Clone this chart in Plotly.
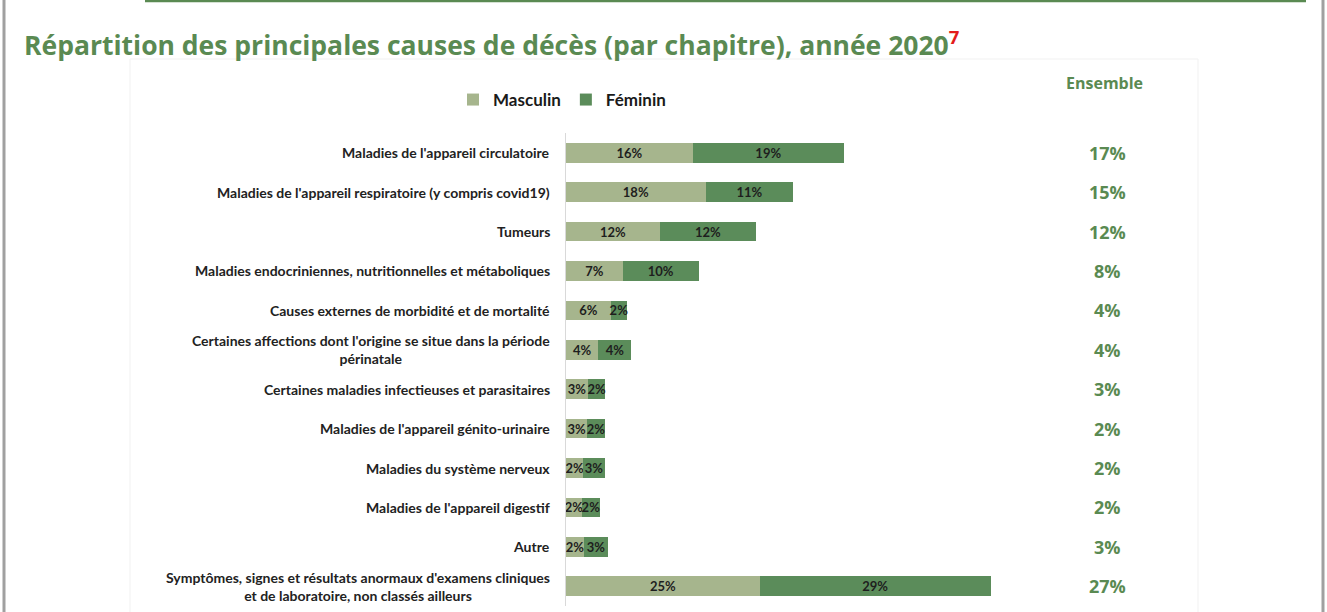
import plotly.graph_objects as go

W, H = 1327, 612

categories = [
    "Maladies de l'appareil circulatoire",
    "Maladies de l'appareil respiratoire (y compris covid19)",
    "Tumeurs",
    "Maladies endocriniennes, nutritionnelles et métaboliques",
    "Causes externes de morbidité et de mortalité",
    "Certaines affections dont l'origine se situe dans la période<br>périnatale",
    "Certaines maladies infectieuses et parasitaires",
    "Maladies de l'appareil génito-urinaire",
    "Maladies du système nerveux",
    "Maladies de l'appareil digestif",
    "Autre",
    "Symptômes, signes et résultats anormaux d'examens cliniques<br>et de laboratoire, non classés ailleurs",
]
masculin = [16.1, 17.7, 11.9, 7.2, 5.7, 4.1, 2.8, 2.7, 2.2, 2.0, 2.3, 24.6]
feminin = [19.1, 11.1, 12.2, 9.6, 2.0, 4.2, 2.2, 2.2, 2.7, 2.3, 3.0, 29.2]
ensemble = ["17%", "15%", "12%", "8%", "4%", "4%", "3%", "2%", "2%", "2%", "3%", "27%"]
series_names = ["Masculin", "Féminin"]
title_text = "Répartition des principales causes de décès (par chapitre), année 2020"
ensemble_header = "Ensemble"

C_MASC = "#a6b58d"
C_FEM = "#5b8c5a"
C_GREEN = "#5a8a52"
FONT = "Lato"
FONT2 = "Open Sans"

ycat = [str(i) for i in range(len(categories))]

# plot area geometry (page pixels)
PL, PR = 566, 1000
PT, PB = 133, 606
def px_x(x):
    return x / W
def px_y(y):
    return (PB - y) / (PB - PT)

fig = go.Figure()
for name, vals, col in [(series_names[0], masculin, C_MASC), (series_names[1], feminin, C_FEM)]:
    fig.add_trace(go.Bar(
        name=name, y=ycat, x=vals, orientation="h", marker=dict(color=col, line=dict(width=0)),
        text=vals, texttemplate="%{x:.0f}%", textposition="inside", insidetextanchor="middle",
        textangle=0,
        textfont=dict(family=FONT, size=13, color="#1e1e1e", weight="bold"),
        width=0.5, hoverinfo="skip",
    ))

annotations = []
for cat, label, ens in zip(ycat, categories, ensemble):
    annotations.append(dict(
        x=px_x(552), xref="paper", y=cat, yref="y", text=label, showarrow=False,
        xanchor="right", yanchor="middle", align="center",
        font=dict(family=FONT, size=14, color="#222222", weight="bold"),
    ))
    annotations.append(dict(
        x=px_x(1107), xref="paper", y=cat, yref="y", text=ens, showarrow=False,
        xanchor="center", yanchor="middle",
        font=dict(family=FONT2, size=18, color=C_GREEN, weight="bold"),
    ))
annotations.append(dict(
    x=px_x(1104), xref="paper", y=px_y(83), yref="paper", text=ensemble_header, showarrow=False,
    xanchor="center", yanchor="middle",
    font=dict(family=FONT2, size=16, color=C_GREEN, weight="bold"),
))
annotations.append(dict(
    x=px_x(22), xref="paper", y=px_y(43), yref="paper",
    text=title_text + "<sup><span style='color:#e31b1b'>7</span></sup>",
    showarrow=False, xanchor="left", yanchor="middle",
    font=dict(family=FONT2, size=26.5, color=C_GREEN, weight="bold"),
))

shapes = [
    dict(type="line", xref="paper", yref="paper", x0=px_x(4), x1=px_x(4), y0=px_y(H + 5), y1=px_y(-5),
         line=dict(color="#a0a0a0", width=3)),
    dict(type="line", xref="paper", yref="paper", x0=px_x(1323), x1=px_x(1323), y0=px_y(H + 5), y1=px_y(-5),
         line=dict(color="#a0a0a0", width=3)),
    dict(type="line", xref="paper", yref="paper", x0=px_x(145), x1=px_x(1306), y0=px_y(1), y1=px_y(1),
         line=dict(color=C_GREEN, width=2.5)),
    dict(type="rect", xref="paper", yref="paper", x0=px_x(130), x1=px_x(1198), y0=px_y(H + 5), y1=px_y(59),
         line=dict(color="#f1f1f1", width=1), layer="below"),
]

fig.update_layout(
    width=W, height=H,
    margin=dict(l=0, r=0, t=PT, b=H - PB, pad=0),
    paper_bgcolor="white", plot_bgcolor="white",
    barmode="stack", bargap=0.5,
    showlegend=True,
    legend=dict(orientation="h", x=px_x(453), y=px_y(100), xanchor="left", yanchor="middle",
                traceorder="normal",
                font=dict(family=FONT, size=17, color="#1a1a1a", weight="bold"),
                itemwidth=30, tracegroupgap=0, bgcolor="rgba(0,0,0,0)"),
    uniformtext=dict(minsize=13, mode="show"),
    xaxis=dict(domain=[px_x(PL), px_x(PR)], range=[0, 55], visible=False, fixedrange=True),
    yaxis=dict(categoryorder="array", categoryarray=ycat, autorange="reversed",
               showticklabels=False, showgrid=False, zeroline=False,
               showline=True, linecolor="#d9d9d9", linewidth=1, ticks="", fixedrange=True),
    annotations=annotations, shapes=shapes,
    font=dict(family=FONT),
)

fig.write_html("out.html",
               config={"displayModeBar": False},
               post_script="document.body.style.margin='0';document.body.style.overflow='hidden';")
